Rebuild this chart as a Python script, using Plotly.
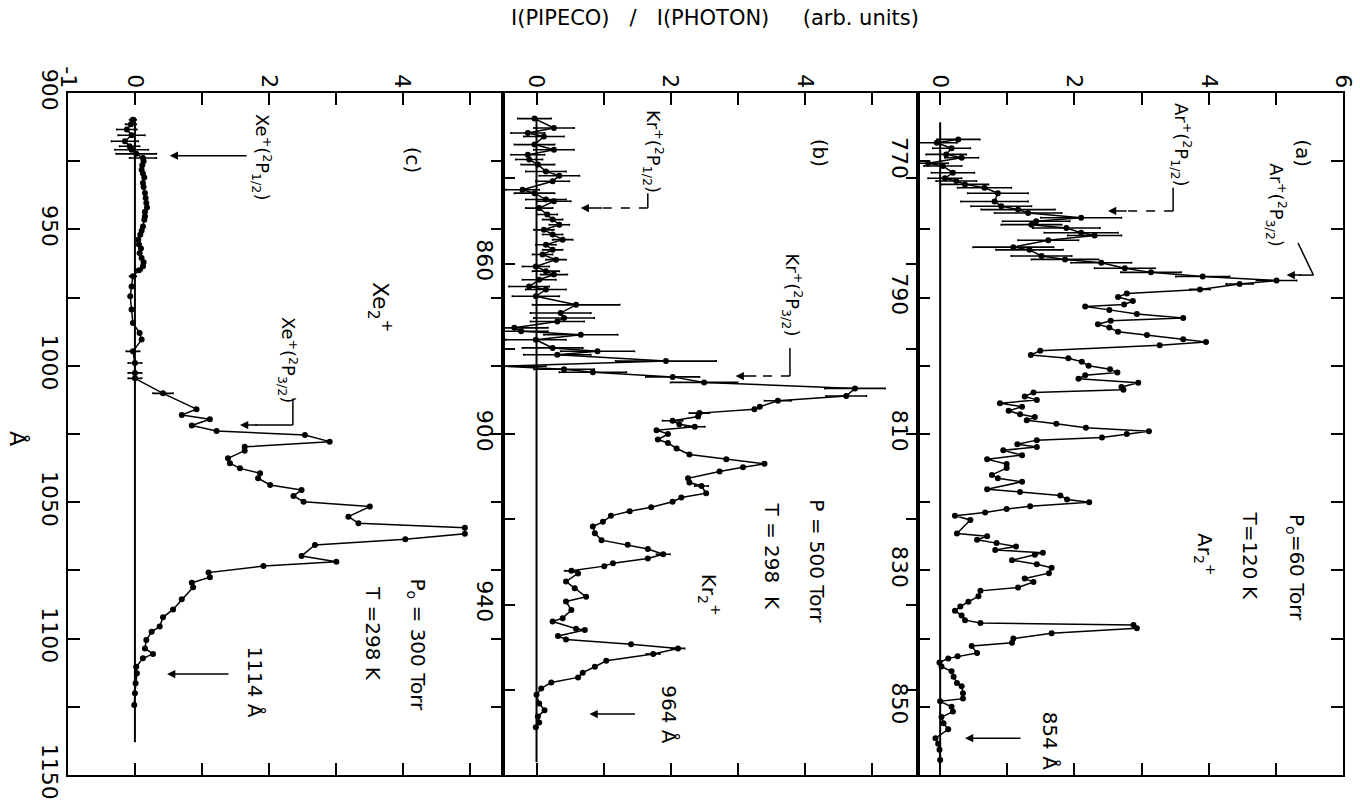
import plotly.graph_objects as go

# ---------------- data ----------------
# Panel (a): Ar2+  -- wavelength (Angstrom), intensity, horizontal error
lam_a = [766.8, 767.3, 768.1, 769.0, 769.5, 770.3, 770.7, 771.7, 772.5, 772.9,
         773.4, 773.9, 774.7, 775.9, 776.6, 777.1, 777.6, 778.3, 778.8, 779.3,
         779.8, 780.5, 780.9, 781.6, 782.6, 783.0, 783.9, 784.4, 784.9, 785.7,
         786.3, 786.9, 787.5, 788.0, 788.8, 789.4, 789.9, 790.5, 791.0, 791.3,
         791.8, 792.4, 793.0, 793.4, 793.9, 794.4, 795.0, 795.5, 796.1, 796.5,
         797.0, 797.8, 798.4, 798.9, 799.4, 800.0, 800.5, 801.0, 801.4, 801.9,
         802.5, 803.1, 803.5, 803.9, 804.5, 805.0, 805.5, 806.0, 806.6, 807.1,
         807.5, 808.0, 808.5, 809.1, 809.6, 810.0, 810.5, 810.9, 811.5, 811.9,
         812.4, 813.1, 813.7, 814.4, 815.0, 816.0, 816.5, 817.0, 818.1, 818.5,
         819.0, 819.6, 820.0, 820.6, 821.0, 821.5, 822.0, 822.6, 824.6, 825.0,
         825.5, 826.0, 826.5, 827.0, 827.4, 827.7, 828.5, 829.1, 829.6, 830.4,
         831.2, 831.7, 832.5, 833.0, 833.8, 834.6, 835.3, 835.9, 836.6, 837.3,
         837.7, 838.0, 838.5, 839.2, 840.0, 840.6, 841.1, 842.1, 842.6, 842.9,
         843.5, 844.1, 844.8, 845.6, 846.5, 847.0, 848.0, 848.8, 849.2, 850.0,
         850.7, 851.5, 852.4, 853.3, 854.6, 855.4, 856.3, 857.8]
int_a = [0.27, -0.05, 0.17, 0.09, 0.32, -0.18, 0.04, 0.19, 0.07, 0.24,
         0.37, 0.66, 0.86, 0.81, 0.91, 1.16, 1.31, 2.10, 1.43, 1.36,
         1.88, 2.10, 2.30, 1.61, 1.09, 1.33, 1.51, 1.86, 2.40, 2.75,
         3.14, 3.91, 5.01, 4.46, 3.87, 2.78, 2.65, 2.87, 2.74, 2.16,
         2.52, 2.93, 3.62, 2.54, 2.35, 2.52, 2.65, 3.08, 3.62, 3.96,
         3.27, 1.49, 1.35, 1.91, 2.11, 2.21, 2.53, 2.64, 2.16, 2.06,
         2.95, 2.70, 2.73, 1.39, 1.26, 1.44, 0.89, 1.22, 1.02, 1.19,
         1.41, 1.29, 1.73, 2.17, 3.11, 2.78, 2.41, 1.44, 1.15, 1.44,
         0.94, 1.22, 0.70, 0.99, 0.99, 0.77, 0.86, 1.22, 0.70, 1.19,
         1.79, 1.89, 2.22, 1.34, 0.99, 0.67, 0.22, 0.45, 0.25, 0.70,
         0.55, 0.84, 1.13, 0.82, 1.53, 1.41, 1.07, 1.44, 1.66, 1.62,
         1.26, 1.39, 1.16, 0.60, 0.57, 0.42, 0.30, 0.22, 0.32, 0.37,
         0.60, 2.88, 2.93, 1.66, 1.09, 1.07, 0.47, 0.55, 0.26, 0.12,
         -0.01, 0.02, 0.17, 0.20, 0.25, 0.32, 0.34, 0.34, 0.00, 0.17,
         0.19, 0.02, 0.05, 0.12, -0.07, -0.03, -0.01, 0.00]
err_a = [0.32, 0.30, 0.28, 0.30, 0.25, 0.30, 0.28, 0.32, 0.25, 0.30,
         0.35, 0.40, 0.45, 0.50, 0.45, 0.55, 0.50, 0.60, 0.50, 0.45,
         0.50, 0.55, 0.40, 0.45, 0.60, 0.50, 0.45, 0.50, 0.45, 0.45,
         0.45, 0.40, 0.30, 0.20, 0.15, 0, 0, 0, 0, 0,
         0, 0, 0, 0, 0, 0, 0, 0, 0, 0,
         0, 0, 0, 0, 0, 0, 0, 0, 0, 0,
         0, 0, 0, 0, 0, 0, 0, 0, 0, 0,
         0, 0, 0, 0, 0, 0, 0, 0, 0, 0,
         0, 0, 0, 0, 0, 0, 0, 0, 0, 0,
         0, 0, 0, 0, 0, 0, 0, 0, 0, 0,
         0, 0, 0, 0, 0, 0, 0, 0, 0, 0,
         0, 0, 0, 0, 0, 0, 0, 0, 0, 0,
         0, 0, 0, 0, 0, 0, 0, 0, 0, 0,
         0, 0, 0, 0, 0, 0, 0, 0, 0, 0,
         0, 0, 0, 0, 0, 0, 0, 0]

# Panel (b): Kr2+
lam_b = [826.0, 828.2, 829.4, 830.2, 832.1, 833.3, 834.5, 835.6, 836.8, 838.4,
         839.4, 840.7, 842.7, 843.5, 845.0, 845.4, 847.0, 848.5, 849.7, 850.9,
         852.1, 853.2, 854.4, 855.6, 856.8, 857.9, 859.1, 860.7, 861.8, 862.6,
         863.8, 865.4, 866.1, 867.7, 869.7, 871.6, 872.8, 873.6, 875.1, 875.9,
         876.7, 877.9, 879.8, 880.6, 881.4, 882.9, 884.1, 884.8, 885.5, 886.6,
         887.9, 889.3, 891.1, 892.2, 893.6, 894.2, 895.1, 895.9, 896.9, 897.7,
         898.3, 899.1, 900.0, 901.3, 902.1, 903.4, 904.8, 905.9, 907.0, 907.8,
         908.8, 910.4, 911.4, 912.2, 913.9, 914.9, 915.9, 917.2, 918.1, 919.2,
         920.6, 921.7, 923.3, 924.9, 926.0, 927.0, 928.2, 929.2, 930.3, 931.0,
         932.1, 932.7, 934.6, 936.2, 938.2, 939.3, 941.3, 943.2, 944.0, 945.7,
         946.0, 947.4, 948.2, 949.3, 950.3, 951.6, 953.2, 954.6, 956.0, 957.1,
         958.3, 959.7, 961.2, 963.2, 964.8, 966.3, 967.7, 968.8]
int_b = [-0.03, 0.26, -0.13, 0.11, -0.03, 0.26, -0.13, -0.11, 0.02, 0.14,
         0.34, 0.24, -0.21, -0.03, 0.14, 0.26, 0.04, 0.16, 0.24, 0.34,
         0.11, 0.24, 0.39, 0.14, 0.24, 0.09, 0.29, -0.01, 0.14, 0.26,
         0.04, -0.11, 0.14, -0.01, 0.59, 0.36, 0.41, 0.31, -0.33, -0.23,
         0.66, -0.01, 0.24, 0.91, 0.31, 1.93, -0.51, 0.41, 0.84, 2.03,
         2.50, 4.75, 4.62, 3.60, 3.33, 3.25, 2.43, 2.41, 2.03, 2.13,
         2.36, 1.79, 1.96, 1.81, 1.96, 2.09, 2.28, 2.83, 3.40, 3.08,
         2.73, 2.26, 2.28, 2.46, 2.53, 2.16, 2.03, 1.71, 1.39, 1.11,
         0.99, 0.84, 0.87, 0.97, 1.36, 1.66, 1.89, 1.66, 1.14, 1.01,
         0.52, 0.62, 0.44, 0.57, 0.74, 0.44, 0.52, 0.39, 0.24, 0.59,
         0.72, 0.32, 0.44, 1.41, 2.11, 1.74, 1.04, 0.87, 0.69, 0.62,
         0.22, 0.07, 0.00, 0.04, 0.12, 0.02, 0.04, -0.01]
err_b = [0.25, 0.30, 0.25, 0.30, 0.30, 0.30, 0.25, 0.20, 0.25, 0.30,
         0.30, 0.25, 0.25, 0.30, 0.30, 0.25, 0.20, 0.15, 0.15, 0.15,
         0.15, 0.15, 0.15, 0.15, 0.15, 0.15, 0.15, 0.20, 0.20, 0.20,
         0.25, 0.30, 0.30, 0.35, 0.65, 0.45, 0.45, 0.40, 0.50, 0.40,
         0.55, 0.45, 0.45, 0.55, 0.50, 0.75, 0.65, 0.45, 0.50, 0.40,
         0.50, 0.45, 0.30, 0.20, 0, 0, 0.15, 0, 0.15, 0,
         0.15, 0, 0, 0, 0, 0, 0, 0, 0, 0,
         0, 0, 0, 0.10, 0, 0, 0, 0, 0, 0,
         0, 0, 0, 0, 0, 0, 0.10, 0, 0, 0,
         0.10, 0, 0, 0, 0, 0, 0, 0, 0, 0,
         0, 0, 0, 0, 0.10, 0.10, 0, 0, 0, 0,
         0, 0, 0, 0, 0, 0, 0, 0]

# Panel (c): Xe2+
lam_c = [909.8, 911.5, 913.4, 915.5, 917.7, 919.5, 920.8, 922.3, 923.8, 925.0,
         926.5, 928.1, 929.5, 931.0, 933.0, 934.5, 936.7, 938.5, 940.3, 942.0,
         943.5, 945.2, 946.5, 948.9, 950.5, 952.0, 953.8, 955.5, 957.0, 958.7,
         960.5, 962.0, 963.5, 965.0, 967.2, 970.9, 974.5, 979.4, 984.3, 988.0,
         990.4, 994.7, 999.0, 1002.6, 1004.6, 1010.1, 1015.9, 1018.0, 1019.6, 1021.9,
         1023.9, 1025.4, 1027.8, 1029.7, 1031.1, 1033.9, 1035.7, 1037.6, 1039.4, 1041.2,
         1043.7, 1045.5, 1047.7, 1049.8, 1051.6, 1055.3, 1057.7, 1059.4, 1061.6, 1063.6,
         1065.7, 1069.7, 1071.8, 1073.4, 1075.8, 1077.5, 1079.5, 1081.2, 1085.6, 1089.3,
         1092.2, 1095.6, 1097.5, 1100.5, 1103.6, 1105.6, 1107.2, 1110.3, 1112.7, 1116.4,
         1120.0, 1124.3]
int_c = [-0.03, -0.06, -0.12, -0.05, -0.15, -0.08, -0.05, 0.02, 0.12, 0.13,
         0.11, 0.10, 0.12, 0.14, 0.12, 0.13, 0.15, 0.16, 0.17, 0.18,
         0.15, 0.15, 0.14, 0.12, 0.10, 0.08, 0.05, 0.06, 0.09, 0.07,
         0.10, 0.13, 0.12, 0.06, -0.03, -0.05, -0.07, -0.05, -0.03, 0.07,
         0.10, -0.03, 0.00, 0.00, 0.00, 0.42, 0.92, 0.70, 1.12, 0.85,
         1.22, 2.54, 2.91, 1.64, 1.64, 1.39, 1.42, 1.57, 1.87, 1.84,
         2.02, 2.49, 2.37, 2.52, 3.51, 3.19, 3.34, 4.93, 4.93, 4.04,
         2.69, 2.49, 3.01, 1.92, 1.10, 1.12, 0.85, 0.87, 0.70, 0.57,
         0.42, 0.37, 0.25, 0.17, 0.15, 0.27, 0.12, 0.02, 0.03, 0.01,
         0.00, -0.01]
err_c = [0.05, 0.08, 0.15, 0.20, 0.20, 0.15, 0.25, 0.30, 0.20, 0,
         0, 0, 0, 0, 0, 0, 0, 0, 0, 0,
         0, 0, 0, 0, 0, 0, 0, 0, 0, 0,
         0, 0, 0, 0.05, 0.05, 0, 0, 0, 0, 0,
         0, 0.10, 0.10, 0.10, 0.10, 0.15, 0, 0, 0, 0,
         0, 0, 0, 0, 0, 0, 0, 0, 0, 0,
         0, 0, 0, 0, 0, 0, 0, 0, 0, 0,
         0, 0, 0, 0, 0, 0, 0, 0, 0, 0,
         0, 0, 0, 0, 0, 0, 0, 0, 0, 0,
         0, 0]

# axis ranges / ticks
range_int_c, range_int_b, range_int_a = [-1, 5.5], [-0.5, 5.69], [-0.33, 6.0]
range_lam_c, range_lam_b, range_lam_a = [1150, 900], [980, 820], [860, 760]
xt_c = [-1, 0, 1, 2, 3, 4, 5]; xl_c = ["-1", "0", "", "2", "", "4", ""]
xt_b = [0, 1, 2, 3, 4, 5];     xl_b = ["0", "", "2", "", "4", ""]
xt_a = [0, 1, 2, 3, 4, 5, 6];  xl_a = ["0", "", "2", "", "4", "", "6"]
yt_c = [900, 925, 950, 975, 1000, 1025, 1050, 1075, 1100, 1125, 1150]
yl_c = ["900", "", "950", "", "1000", "", "1050", "", "1100", "", "1150"]
yt_b = [820, 840, 860, 880, 900, 920, 940, 960, 980]
yl_b = ["", "", "860", "", "900", "", "940", "", ""]
yt_a = [760, 770, 780, 790, 800, 810, 820, 830, 840, 850, 860]
yl_a = ["", "770", "", "790", "", "810", "", "830", "", "850", ""]

# ---------------- figure ----------------
W, H = 1360, 801
FONT = "DejaVu Sans"


def pxx(v):
    return v / W


def pxy(v):
    return 1 - v / H


fig = go.Figure()

panels = [
    ("x", "y", lam_c, int_c, err_c),
    ("x2", "y2", lam_b, int_b, err_b),
    ("x3", "y3", lam_a, int_a, err_a),
]
for xa, ya, lam, inten, err in panels:
    fig.add_trace(go.Scatter(
        x=inten, y=lam, xaxis=xa, yaxis=ya, mode="lines+markers",
        line=dict(color="black", width=1.5),
        marker=dict(color="black", size=6),
        error_x=dict(type="data", array=err, visible=True, color="black",
                     thickness=1.6, width=1),
        showlegend=False, hoverinfo="skip"))

ydom = [pxy(775), pxy(93)]
common = dict(showline=True, linecolor="black", linewidth=2, mirror="ticks",
              ticks="inside", ticklen=12, tickwidth=2, tickcolor="black",
              showgrid=False, zeroline=False, tickangle=90, automargin=False,
              tickfont=dict(family=FONT, size=22, color="black"),
              tickmode="array")
XSO, YSO = -5, -2

layout = dict(
    template="none",
    width=W, height=H, margin=dict(l=0, r=0, t=0, b=0, pad=0), autosize=False,
    paper_bgcolor="white", plot_bgcolor="white", showlegend=False,
    xaxis=dict(domain=[pxx(68), pxx(503)], range=range_int_c, anchor="y", side="top",
               tickvals=xt_c, ticktext=xl_c, ticklabelstandoff=XSO, **common),
    yaxis=dict(domain=ydom, range=range_lam_c, anchor="x",
               tickvals=yt_c, ticktext=yl_c, ticklabelstandoff=YSO, **common),
    xaxis2=dict(domain=[pxx(503), pxx(918)], range=range_int_b, anchor="y2", side="top",
                tickvals=xt_b, ticktext=xl_b, ticklabelstandoff=XSO, **common),
    yaxis2=dict(domain=ydom, range=range_lam_b, anchor="x2",
                tickvals=yt_b, ticktext=yl_b, ticklabelstandoff=YSO, **common),
    xaxis3=dict(domain=[pxx(918), pxx(1343)], range=range_int_a, anchor="y3", side="top",
                tickvals=xt_a, ticktext=xl_a, ticklabelstandoff=XSO, **common),
    yaxis3=dict(domain=ydom, range=range_lam_a, anchor="x3",
                tickvals=yt_a, ticktext=yl_a, ticklabelstandoff=YSO, **common),
)
fig.update_layout(**layout)

shapes = []


def seg(xr, yr, x0, y0, x1, y1, dash="solid", w=1.5):
    shapes.append(dict(type="line", xref=xr, yref=yr, x0=x0, y0=y0, x1=x1, y1=y1,
                       line=dict(color="black", width=w, dash=dash)))


# zero baselines
seg("x", "y", 0, 909, 0, 1138, w=2)
seg("x2", "y2", 0, 826, 0, 977, w=2)
seg("x3", "y3", 0, 764.3, 0, 858.2, w=2)

# label connectors
seg("x3", "y3", 3.47, 773.9, 3.47, 777.3)
seg("x3", "y3", 3.47, 777.3, 2.75, 777.3, dash="dash")
seg("x3", "y3", 5.33, 782.0, 5.56, 786.7)
seg("x3", "y3", 5.56, 786.7, 5.35, 786.7)
seg("x2", "y2", 1.66, 843.5, 1.66, 847.0)
seg("x2", "y2", 1.66, 847.0, 0.95, 847.0, dash="dash")
seg("x2", "y2", 3.78, 879.8, 3.78, 886.4)
seg("x2", "y2", 3.78, 886.4, 3.25, 886.4, dash="dash")
seg("x", "y", 2.36, 1012.0, 2.36, 1021.7)
seg("x", "y", 2.36, 1021.7, 1.8, 1021.7)
fig.update_layout(shapes=shapes)

ann = []


def arrow(xr, yr, xtip, ytip, xtail, ytail):
    ann.append(dict(xref=xr, yref=yr, axref=xr, ayref=yr, x=xtip, y=ytip, ax=xtail, ay=ytail,
                    text="", showarrow=True, arrowhead=2, arrowsize=1.1, arrowwidth=1.5,
                    arrowcolor="black"))


def label(xr, yr, x, y, text, size=20):
    ann.append(dict(xref=xr, yref=yr, x=x, y=y, text=text, showarrow=False, textangle=90,
                    xanchor="center", yanchor="middle",
                    font=dict(family=FONT, size=size, color="black")))


# arrows
arrow("x3", "y3", 2.50, 777.3, 2.80, 777.3)
arrow("x3", "y3", 5.16, 786.7, 5.40, 786.7)
arrow("x3", "y3", 0.37, 854.6, 1.22, 854.6)
arrow("x2", "y2", 0.66, 847.0, 1.00, 847.0)
arrow("x2", "y2", 2.97, 886.4, 3.30, 886.4)
arrow("x2", "y2", 0.79, 965.7, 1.49, 965.7)
arrow("x", "y", 0.52, 923.0, 1.69, 923.0)
arrow("x", "y", 1.57, 1021.7, 1.85, 1021.7)
arrow("x", "y", 0.48, 1113.0, 1.42, 1113.0)

# panel (a) texts
label("x3", "y3", 5.40, 768.8, "(a)")
label("x3", "y3", 5.02, 776.5, "Ar<sup>+</sup>(<sup>2</sup>P<sub>3/2</sub>)", 18)
label("x3", "y3", 3.60, 767.6, "Ar<sup>+</sup>(<sup>2</sup>P<sub>1/2</sub>)", 18)
label("x3", "y3", 5.30, 829.5, "P<sub>o</sub>=60 Torr")
label("x3", "y3", 4.61, 827.9, "T=120 K")
label("x3", "y3", 3.94, 827.7, "Ar<sub>2</sub><sup>+</sup>")
label("x3", "y3", 1.64, 855.0, "854 Å")
# panel (b) texts
label("x2", "y2", 4.22, 834.1, "(b)")
label("x2", "y2", 1.75, 833.8, "Kr<sup>+</sup>(<sup>2</sup>P<sub>1/2</sub>)", 18)
label("x2", "y2", 3.82, 867.4, "Kr<sup>+</sup>(<sup>2</sup>P<sub>3/2</sub>)", 18)
label("x2", "y2", 4.18, 929.8, "P = 500 Torr")
label("x2", "y2", 3.52, 928.6, "T = 298  K")
label("x2", "y2", 2.58, 937.8, "Kr<sub>2</sub><sup>+</sup>")
label("x2", "y2", 1.97, 965.9, "964 Å")
# panel (c) texts
label("x", "y", 4.16, 924.6, "(c)")
label("x", "y", 1.90, 923.5, "Xe<sup>+</sup>(<sup>2</sup>P<sub>1/2</sub>)", 18)
label("x", "y", 2.29, 997.9, "Xe<sup>+</sup>(<sup>2</sup>P<sub>3/2</sub>)", 18)
label("x", "y", 3.66, 978.4, "Xe<sub>2</sub><sup>+</sup>", 22)
label("x", "y", 4.22, 1102.3, "P<sub>o</sub> = 300 Torr")
label("x", "y", 3.56, 1098.0, "T =298 K")
label("x", "y", 1.79, 1116.0, "1114 Å")

# axis titles
nb = "\u00a0"
ann.append(dict(xref="paper", yref="paper", x=pxx(715), y=pxy(18), showarrow=False,
                text="I(PIPECO)" + nb * 3 + "/" + nb * 3 + "I(PHOTON)" + nb * 5 + "(arb. units)",
                xanchor="center", yanchor="middle",
                font=dict(family=FONT, size=21, color="black")))
ann.append(dict(xref="paper", yref="paper", x=pxx(18), y=pxy(438), showarrow=False,
                text="Å", textangle=90, xanchor="center", yanchor="middle",
                font=dict(family=FONT, size=22, color="black")))
fig.update_layout(annotations=ann)

fig.write_html("out.html")
